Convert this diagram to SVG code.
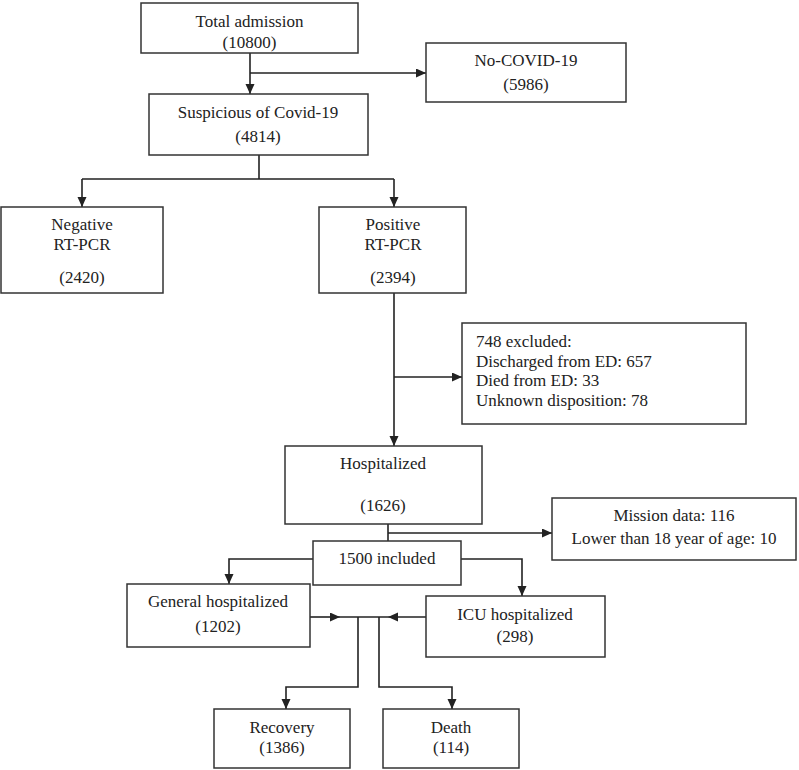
<svg xmlns="http://www.w3.org/2000/svg" width="799" height="770" viewBox="0 0 799 770">
<defs>
<marker id="ah" markerWidth="11" markerHeight="10" refX="10" refY="4.5" orient="auto" markerUnits="userSpaceOnUse">
<path d="M0,0 L10,4.5 L0,9 z" fill="#222"/>
</marker>
<style>
.box{fill:#fff;stroke:#333;stroke-width:1.5}
.t{font-family:"Liberation Serif","Times New Roman",serif;font-size:17px;fill:#222;text-anchor:middle}
.tl{font-family:"Liberation Serif","Times New Roman",serif;font-size:17px;fill:#222;text-anchor:start}
.c{fill:none;stroke:#222;stroke-width:1.6}
.a{fill:none;stroke:#222;stroke-width:1.6;marker-end:url(#ah)}
</style>
</defs>
<rect width="799" height="770" fill="#fff"/>
<g id="connectors">
<path class="a" d="M250,53 V94"/>
<path class="a" d="M250,73 H426"/>
<path class="c" d="M259,155 V179 M82,179 H394"/>
<path class="a" d="M82,179 V207"/>
<path class="a" d="M394,179 V207"/>
<path class="a" d="M394,293 V446"/>
<path class="a" d="M394,377 H462"/>
<path class="c" d="M388,524 V541"/>
<path class="a" d="M388,533 H552"/>
<path class="a" d="M313,559 H229 V584"/>
<path class="a" d="M461,559 H522 V596"/>
<path class="a" d="M310,617 H340"/>
<path class="a" d="M426,617 H388"/>
<path class="c" d="M340,617 H388"/>
<path class="a" d="M358,617 V687 H286 V709"/>
<path class="a" d="M379,617 V687 H452 V709"/>
</g>
<g id="total">
<rect class="box" x="141" y="3" width="217" height="50"/>
<text class="t" x="249.5" y="27">Total admission</text>
<text class="t" x="249.5" y="48">(10800)</text>
</g>
<g id="nocovid">
<rect class="box" x="426" y="43" width="200" height="59"/>
<text class="t" x="526" y="66">No-COVID-19</text>
<text class="t" x="526" y="90">(5986)</text>
</g>
<g id="suspicious">
<rect class="box" x="149" y="94" width="219" height="61"/>
<text class="t" x="258" y="118">Suspicious of Covid-19</text>
<text class="t" x="258" y="142">(4814)</text>
</g>
<g id="negative">
<rect class="box" x="1" y="207" width="162" height="86"/>
<text class="t" x="82" y="230">Negative</text>
<text class="t" x="82" y="250">RT-PCR</text>
<text class="t" x="82" y="283">(2420)</text>
</g>
<g id="positive">
<rect class="box" x="319" y="207" width="147" height="86"/>
<text class="t" x="393" y="230">Positive</text>
<text class="t" x="393" y="250">RT-PCR</text>
<text class="t" x="393" y="283">(2394)</text>
</g>
<g id="excluded">
<rect class="box" x="462" y="323" width="284" height="101"/>
<text class="tl" x="476" y="347">748 excluded:</text>
<text class="tl" x="476" y="367">Discharged from ED: 657</text>
<text class="tl" x="476" y="386">Died from ED: 33</text>
<text class="tl" x="476" y="406">Unknown disposition: 78</text>
</g>
<g id="hospitalized">
<rect class="box" x="285" y="446" width="197" height="78"/>
<text class="t" x="383" y="469">Hospitalized</text>
<text class="t" x="383" y="511">(1626)</text>
</g>
<g id="mission">
<rect class="box" x="552" y="498" width="244" height="62"/>
<text class="t" x="674" y="521">Mission data: 116</text>
<text class="t" x="674" y="544">Lower than 18 year of age: 10</text>
</g>
<g id="included">
<rect class="box" x="313" y="541" width="148" height="44"/>
<text class="t" x="387" y="564">1500 included</text>
</g>
<g id="general">
<rect class="box" x="127" y="584" width="183" height="63"/>
<text class="t" x="218" y="607">General hospitalized</text>
<text class="t" x="218" y="632">(1202)</text>
</g>
<g id="icu">
<rect class="box" x="426" y="596" width="179" height="61"/>
<text class="t" x="515" y="620">ICU hospitalized</text>
<text class="t" x="515" y="642">(298)</text>
</g>
<g id="recovery">
<rect class="box" x="214" y="709" width="136" height="59"/>
<text class="t" x="282" y="733">Recovery</text>
<text class="t" x="282" y="753">(1386)</text>
</g>
<g id="death">
<rect class="box" x="383" y="709" width="136" height="59"/>
<text class="t" x="451" y="733">Death</text>
<text class="t" x="451" y="753">(114)</text>
</g>
</svg>
